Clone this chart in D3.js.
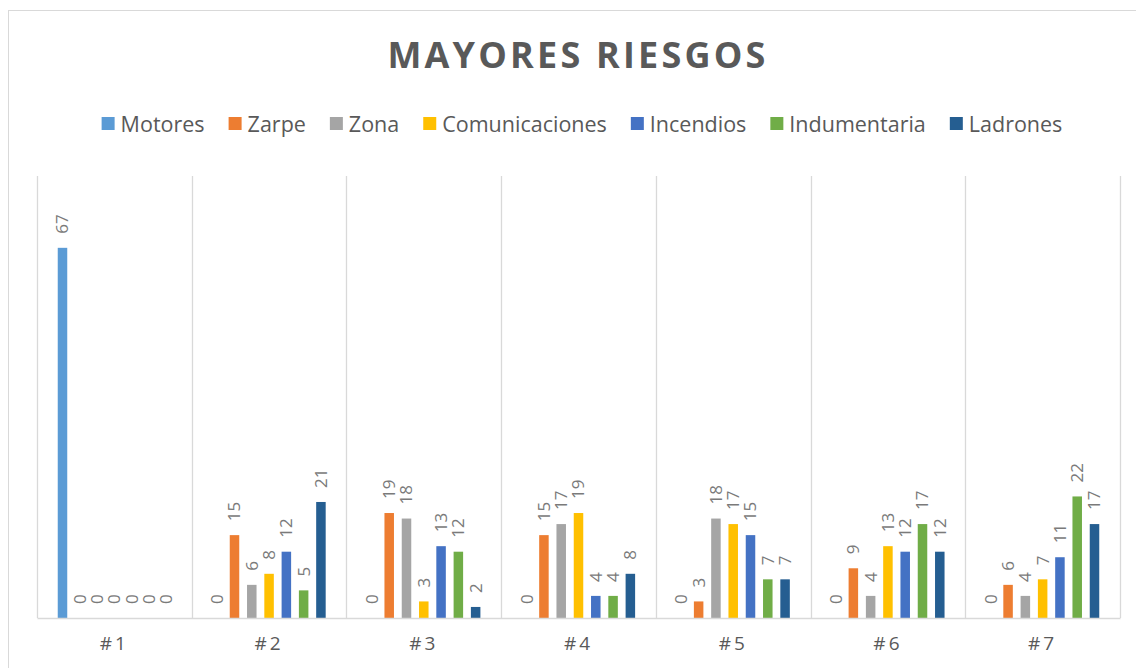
<!DOCTYPE html>
<html>
<head>
<meta charset="utf-8">
<script src="https://cdn.jsdelivr.net/npm/d3@7"></script>
<style>
body { margin: 0; background: #fff; }
text { font-family: "Open Sans", sans-serif; }
</style>
</head>
<body>
<svg width="1136" height="668"></svg>
<script>
var categories = ['#1', '#2', '#3', '#4', '#5', '#6', '#7'];
var seriesNames = ['Motores', 'Zarpe', 'Zona', 'Comunicaciones', 'Incendios', 'Indumentaria', 'Ladrones'];
var seriesColors = ['#5b9bd5', '#ed7d31', '#a5a5a5', '#ffc000', '#4472c4', '#70ad47', '#255e91'];

var motores        = [67, 0, 0, 0, 0, 0, 0];
var zarpe          = [0, 15, 19, 15, 3, 9, 6];
var zona           = [0, 6, 18, 17, 18, 4, 4];
var comunicaciones = [0, 8, 3, 19, 17, 13, 7];
var incendios      = [0, 12, 13, 4, 15, 12, 11];
var indumentaria   = [0, 5, 12, 4, 7, 17, 22];
var ladrones       = [0, 21, 2, 8, 7, 12, 17];

var yMax = 80;

var seriesValues = [motores, zarpe, zona, comunicaciones, incendios, indumentaria, ladrones];

var svg = d3.select('svg');
var svgWidth = +svg.attr('width');
var svgHeight = +svg.attr('height');

var padding = {t: 176, r: 16, b: 50, l: 37};
var chartWidth = svgWidth - padding.l - padding.r;
var chartHeight = svgHeight - padding.t - padding.b;

// outer chart frame
svg.append('rect')
    .attr('x', 8.5).attr('y', 10.5)
    .attr('width', 1140).attr('height', 700)
    .attr('fill', 'none')
    .attr('stroke', '#d9d9d9');

// title
svg.append('text')
    .attr('x', 578)
    .attr('y', 68)
    .attr('text-anchor', 'middle')
    .style('font-size', '36px')
    .style('font-weight', 'bold')
    .style('letter-spacing', '3.2px')
    .style('fill', '#595959')
    .text('MAYORES RIESGOS');

var chartG = svg.append('g')
    .attr('transform', 'translate(' + [padding.l, padding.t] + ')');

var x0 = d3.scaleBand().domain(categories).range([0, chartWidth]).padding(0);
var x1 = d3.scaleBand().domain(seriesNames).range([0, x0.bandwidth()])
    .paddingInner(0.45).paddingOuter(1.2);
var yScale = d3.scaleLinear().domain([0, yMax]).range([chartHeight, 0]);
var colorScale = d3.scaleOrdinal().domain(seriesNames).range(seriesColors);

// vertical category gridlines
var edges = categories.map(function(c) { return x0(c); }).concat([chartWidth]);
chartG.selectAll('.vgrid')
    .data(edges)
    .enter().append('line')
    .attr('class', 'vgrid')
    .attr('x1', function(d) { return Math.round(d) + 0.5; })
    .attr('x2', function(d) { return Math.round(d) + 0.5; })
    .attr('y1', 0)
    .attr('y2', chartHeight)
    .attr('stroke', '#d9d9d9')
    .attr('stroke-width', 1.3);

// flatten to one record per bar
var bars = [];
categories.forEach(function(c, i) {
    seriesNames.forEach(function(s, j) {
        bars.push({cat: c, key: s, value: seriesValues[j][i]});
    });
});

var barG = chartG.selectAll('.bar')
    .data(bars)
    .enter().append('g')
    .attr('class', 'bar')
    .attr('transform', function(d) {
        return 'translate(' + [x0(d.cat) + x1(d.key), 0] + ')';
    });

barG.append('rect')
    .attr('x', 0)
    .attr('width', x1.bandwidth())
    .attr('y', function(d) { return yScale(d.value); })
    .attr('height', function(d) { return chartHeight - yScale(d.value); })
    .attr('fill', function(d) { return colorScale(d.key); });

barG.append('text')
    .attr('transform', function(d) {
        return 'translate(' + [x1.bandwidth() / 2, yScale(d.value) - 14] + ') rotate(-90)';
    })
    .attr('dy', '0.35em')
    .style('font-size', '17px')
    .style('fill', '#7a7a7a')
    .text(function(d) { return d.value; });

// baseline / x axis
var xAxis = chartG.append('g')
    .attr('class', 'x axis')
    .attr('transform', 'translate(' + [0, chartHeight] + ')')
    .call(d3.axisBottom(x0).tickSize(0).tickPadding(19));
xAxis.select('.domain').attr('stroke', '#d9d9d9').attr('stroke-width', 1.3);
xAxis.selectAll('text')
    .style('font-family', '"Open Sans", sans-serif')
    .style('font-size', '19px')
    .style('letter-spacing', '3px')
    .style('fill', '#595959');

// legend
var legendG = svg.append('g').attr('class', 'legend');
var items = legendG.selectAll('.item')
    .data(seriesNames)
    .enter().append('g')
    .attr('class', 'item');
items.append('rect')
    .attr('width', 13).attr('height', 13)
    .attr('y', -7)
    .attr('fill', function(d) { return colorScale(d); });
items.append('text')
    .attr('x', 19)
    .attr('dy', '0.35em')
    .style('font-size', '21.5px')
    .style('fill', '#595959')
    .text(function(d) { return d; });

var cursor = 0;
var gap = 24;
items.each(function() {
    var w = 19 + this.querySelector('text').getComputedTextLength();
    d3.select(this).attr('transform', 'translate(' + [cursor, 0] + ')');
    cursor += w + gap;
});
var legendWidth = cursor - gap;
legendG.attr('transform', 'translate(' + [582 - legendWidth / 2, 124] + ')');
</script>
</body>
</html>
